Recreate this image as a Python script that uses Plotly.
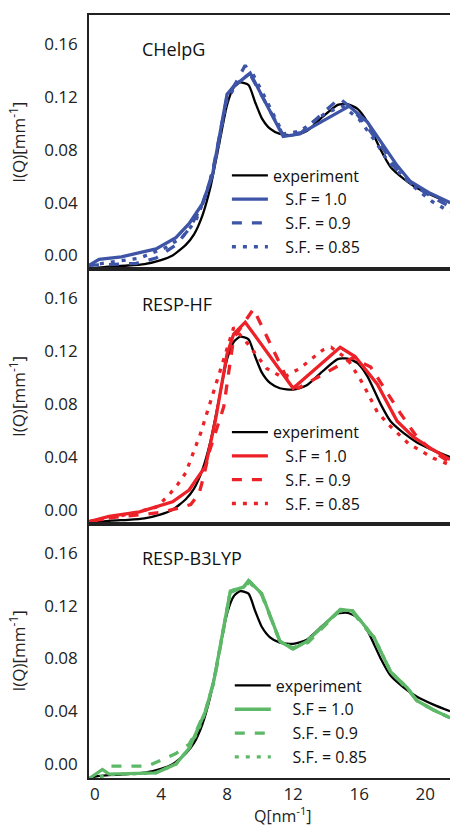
import plotly.graph_objects as go
from plotly.subplots import make_subplots

# ---------------- data ----------------
Q_exp = [-0.36, 0.0, 1.0, 2.0, 3.0, 4.0, 4.7, 5.5, 6.0, 6.5, 7.0, 7.5, 8.0, 8.4, 8.8, 9.3, 9.7, 10.1,
         10.6, 11.2, 12.0, 12.8, 13.8, 14.7, 15.3, 15.9, 16.5, 17.3, 17.9, 18.7, 19.5, 20.5, 21.5]
I_exp = [-0.0106, -0.0095, -0.0082, -0.0076, -0.0065, -0.0035, 0.000, 0.008, 0.016, 0.030, 0.052,
         0.083, 0.114, 0.127, 0.131, 0.129, 0.116, 0.104, 0.096, 0.092, 0.091, 0.094, 0.105, 0.114,
         0.1145, 0.111, 0.101, 0.080, 0.067, 0.058, 0.051, 0.045, 0.040]

# CHelpG (blue)
Q_c10 = [-0.36, 0.25, 1.6, 3.7, 4.9, 5.7, 6.5, 7.1, 8.0, 8.4, 9.4, 11.4, 12.4, 15.4, 16.5, 17.4,
         18.3, 19.1, 20.3, 21.5]
I_c10 = [-0.0075, -0.003, -0.001, 0.005, 0.0135, 0.024, 0.039, 0.060, 0.122, 0.128, 0.138, 0.090,
         0.092, 0.113, 0.101, 0.084, 0.068, 0.056, 0.047, 0.040]
Q_c09 = [-0.36, 1.0, 2.5, 3.7, 4.9, 5.7, 6.5, 7.1, 8.0, 8.5, 9.1, 11.4, 12.5, 14.8, 15.6, 16.5,
         17.5, 18.2, 19.2, 20.3, 21.5]
I_c09 = [-0.0075, -0.007, -0.006, -0.002, 0.008, 0.020, 0.038, 0.062, 0.120, 0.130, 0.144, 0.091,
         0.093, 0.119, 0.111, 0.097, 0.080, 0.066, 0.054, 0.045, 0.037]
Q_c085 = [-0.36, 1.0, 2.7, 4.3, 5.3, 6.1, 6.7, 7.3, 8.0, 8.6, 9.5, 10.2, 11.4, 12.4, 14.0, 15.0,
          16.0, 17.0, 17.7, 18.3, 19.3, 20.4, 21.5]
I_c085 = [-0.0075, -0.005, -0.002, 0.006, 0.014, 0.026, 0.045, 0.072, 0.118, 0.130, 0.139, 0.122,
          0.092, 0.094, 0.108, 0.113, 0.103, 0.086, 0.072, 0.064, 0.052, 0.041, 0.033]

# RESP-HF (red)
Q_h10 = [-0.36, 0.85, 2.7, 4.7, 5.7, 6.7, 7.3, 8.0, 8.4, 9.1, 12.0, 14.85, 15.75, 17.1, 18.3,
         19.3, 20.4, 21.5]
I_h10 = [-0.009, -0.005, -0.0015, 0.006, 0.015, 0.033, 0.068, 0.118, 0.133, 0.142, 0.092, 0.123,
         0.116, 0.095, 0.067, 0.055, 0.046, 0.038]
Q_h09 = [-0.36, 1.0, 2.5, 4.0, 5.0, 5.8, 6.3, 6.6, 6.9, 7.8, 8.4, 9.6, 11.8, 12.3, 15.6, 16.7,
         18.5, 19.5, 20.5, 21.5]
I_h09 = [-0.009, -0.006, -0.004, -0.002, 0.001, 0.004, 0.012, 0.026, 0.043, 0.078, 0.130, 0.152,
         0.095, 0.092, 0.115, 0.108, 0.073, 0.055, 0.044, 0.036]
Q_h085 = [-0.36, 1.0, 2.5, 3.7, 4.4, 5.0, 5.5, 5.8, 6.1, 6.4, 6.9, 7.5, 8.4, 9.3, 10.4, 11.4,
          12.4, 13.8, 14.3, 15.3, 16.2, 17.1, 17.9, 19.0, 20.5, 21.5]
I_h085 = [-0.009, -0.006, -0.002, 0.002, 0.010, 0.019, 0.028, 0.038, 0.049, 0.058, 0.078, 0.102,
          0.138, 0.125, 0.107, 0.100, 0.107, 0.121, 0.123, 0.114, 0.096, 0.074, 0.063, 0.050,
          0.039, 0.034]

# RESP-B3LYP (green)
Q_b10 = [-0.36, 0.45, 0.86, 2.0, 3.7, 4.9, 5.7, 6.1, 6.7, 7.2, 8.2, 9.0, 9.3, 10.1, 10.8, 11.2,
         12.0, 12.85, 14.85, 15.6, 16.9, 17.9, 18.9, 19.5, 20.5, 21.5]
I_b10 = [-0.011, -0.004, -0.0076, -0.0072, -0.0066, 0.000, 0.012, 0.023, 0.040, 0.063, 0.131,
         0.134, 0.139, 0.129, 0.106, 0.093, 0.087, 0.093, 0.117, 0.116, 0.096, 0.070, 0.058,
         0.048, 0.041, 0.035]
Q_b09 = [1.0, 3.2, 4.9, 5.7, 6.1, 6.7, 7.2, 8.2, 9.0, 9.4, 10.1, 10.8, 11.2, 12.0, 12.9, 14.8,
         15.6, 16.9, 17.9, 18.9, 19.5, 20.5, 21.5]
I_b09 = [-0.0015, -0.0015, 0.008, 0.015, 0.024, 0.041, 0.062, 0.130, 0.134, 0.138, 0.128, 0.105,
         0.093, 0.088, 0.092, 0.116, 0.115, 0.095, 0.070, 0.057, 0.048, 0.041, 0.035]
Q_b085 = [-0.36, 0.9, 3.7, 4.9, 5.7, 6.2, 6.7, 7.2, 8.2, 9.0, 9.3, 10.1, 10.8, 11.2, 12.0, 12.8,
          14.9, 15.6, 16.9, 17.9, 18.9, 19.5, 20.5, 21.5]
I_b085 = [-0.011, -0.008, -0.0066, 0.000, 0.012, 0.024, 0.040, 0.063, 0.131, 0.134, 0.138, 0.129,
          0.106, 0.093, 0.087, 0.093, 0.117, 0.116, 0.096, 0.070, 0.058, 0.048, 0.041, 0.035]

panel_names = ["CHelpG", "RESP-HF", "RESP-B3LYP"]
panel_colors = ["#3e55a7", "#ec2228", "#5db868"]
series_names = ["S.F = 1.0", "S.F. = 0.9", "S.F. = 0.85"]
panel_series = [
    [(Q_c10, I_c10), (Q_c09, I_c09), (Q_c085, I_c085)],
    [(Q_h10, I_h10), (Q_h09, I_h09), (Q_h085, I_h085)],
    [(Q_b10, I_b10), (Q_b09, I_b09), (Q_b085, I_b085)],
]
x_ticks = [0, 4, 8, 12, 16, 20]
y_ticks = [0.00, 0.04, 0.08, 0.12, 0.16]

# ---------------- figure ----------------
FONT = "Open Sans"
fig = make_subplots(rows=3, cols=1, shared_xaxes=True, vertical_spacing=0)

dashes = ["solid", "10px,10px", "4px,7px"]
indents = [3, 3, 4]
legend_ids = ["legend", "legend2", "legend3"]

for p in range(3):
    row = p + 1
    lg = legend_ids[p]
    fig.add_trace(go.Scatter(x=Q_exp, y=I_exp, mode="lines", name="experiment",
                             line=dict(color="black", width=2.3, shape="spline", smoothing=0.6),
                             legend=lg), row=row, col=1)
    for k, (qx, iy) in enumerate(panel_series[p]):
        fig.add_trace(go.Scatter(x=qx, y=iy, mode="lines",
                                 name="\u00a0" * indents[p] + series_names[k],
                                 line=dict(color=panel_colors[p], width=3.3, dash=dashes[k]),
                                 legend=lg), row=row, col=1)

for p in range(3):
    row = p + 1
    fig.update_xaxes(range=[-0.36, 21.5], showline=True, mirror=True, linecolor="#222",
                     linewidth=1.6, showgrid=False, zeroline=False, ticks="",
                     tickvals=x_ticks, ticktext=[str(v) for v in x_ticks],
                     tickfont=dict(family=FONT, size=17, color="#222"), row=row, col=1)
    fig.update_yaxes(range=[-0.0105, 0.182], showline=True, mirror=False, linecolor="#222",
                     linewidth=1.6, showgrid=False, zeroline=False, ticks="",
                     tickvals=y_ticks, ticktext=["%.2f" % v for v in y_ticks],
                     tickfont=dict(family=FONT, size=17, color="#222"),
                     ticklabelstandoff=6,
                     title=dict(text="I(Q)[mm<sup>-1</sup>]", standoff=14,
                                font=dict(family=FONT, size=17, color="#222")),
                     row=row, col=1)
    ax = "" if p == 0 else str(row)
    fig.add_annotation(text=panel_names[p], xref="x%s domain" % ax, yref="y%s domain" % ax,
                       x=0.141, y=0.865, xanchor="left", yanchor="middle", showarrow=False,
                       font=dict(family=FONT, size=18, color="#111"))

fig.add_annotation(text="Q[nm<sup>-1</sup>]", xref="paper", yref="paper", x=0.537, y=-0.048,
                   xanchor="center", yanchor="middle", showarrow=False,
                   font=dict(family=FONT, size=16, color="#222"))

leg_common = dict(xanchor="left", yanchor="middle", bgcolor="rgba(0,0,0,0)", borderwidth=0,
                  font=dict(family=FONT, size=16, color="#111"), itemwidth=36,
                  tracegroupgap=0)
fig.update_layout(
    width=450, height=830,
    margin=dict(l=89, r=0, t=15, b=52),
    paper_bgcolor="white", plot_bgcolor="white",
    showlegend=True,
    legend=dict(x=0.382, y=0.7425, **leg_common),
    legend2=dict(x=0.382, y=0.406, **leg_common),
    legend3=dict(x=0.39, y=0.074, **leg_common),
)

fig.write_html("out.html")
